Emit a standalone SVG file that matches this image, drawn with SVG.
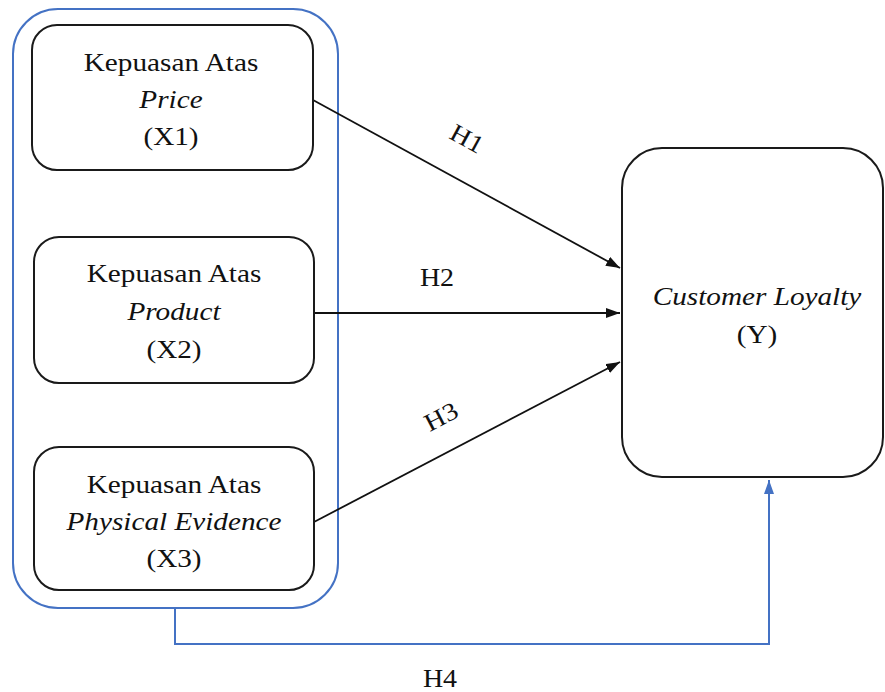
<svg xmlns="http://www.w3.org/2000/svg" width="885" height="692" viewBox="0 0 885 692">
<defs>
<style>
.box{fill:#fff;stroke:#1a1a1a;stroke-width:2}
.grp{fill:none;stroke:#4472c4;stroke-width:2}
.t{font-family:"Liberation Serif","Times New Roman",serif;font-size:25px;fill:#111;text-anchor:middle}
.i{font-style:italic}
.c{stroke:#111;stroke-width:1.8;fill:none}
.cb{stroke:#4472c4;stroke-width:2;fill:none}
</style>
<marker id="ah" viewBox="0 0 14 10" refX="14" refY="5" markerWidth="14" markerHeight="10" markerUnits="userSpaceOnUse" orient="auto">
<path d="M0,0 L14,5 L0,10 Z" fill="#111"/>
</marker>
<marker id="ahb" viewBox="0 0 14 10" refX="14" refY="5" markerWidth="14" markerHeight="10" markerUnits="userSpaceOnUse" orient="auto">
<path d="M0,0 L14,5 L0,10 Z" fill="#4472c4"/>
</marker>
</defs>
<rect width="885" height="692" fill="#fff"/>
<g id="group-x">
<rect class="grp" x="13" y="9" width="325" height="599" rx="45" ry="45"/>
</g>
<g id="connectors">
<line class="c" x1="313" y1="100" x2="620" y2="268" marker-end="url(#ah)"/>
<line class="c" x1="314" y1="313" x2="620" y2="313" marker-end="url(#ah)"/>
<line class="c" x1="314" y1="522" x2="620" y2="362" marker-end="url(#ah)"/>
<polyline class="cb" points="175,609 175,644 769,644 769,480" marker-end="url(#ahb)"/>
<text class="t" transform="translate(463,146) rotate(28.6) scale(1.12 1)">H1</text>
<text class="t" transform="translate(437,286) scale(1.12 1)">H2</text>
<text class="t" transform="translate(445,424) rotate(-27.5) scale(1.12 1)">H3</text>
<text class="t" transform="translate(440,687) scale(1.12 1)">H4</text>
</g>
<g id="x1">
<rect class="box" x="32" y="25" width="281" height="145" rx="25" ry="25"/>
<text class="t" transform="translate(171,71) scale(1.17 1)">Kepuasan Atas</text>
<text class="t i" transform="translate(171,108) scale(1.17 1)">Price</text>
<text class="t" transform="translate(171,145) scale(1.17 1)">(X1)</text>
</g>
<g id="x2">
<rect class="box" x="34" y="237" width="280" height="146" rx="25" ry="25"/>
<text class="t" transform="translate(174,282) scale(1.17 1)">Kepuasan Atas</text>
<text class="t i" transform="translate(174,320) scale(1.17 1)">Product</text>
<text class="t" transform="translate(174,358) scale(1.17 1)">(X2)</text>
</g>
<g id="x3">
<rect class="box" x="34" y="447" width="280" height="143" rx="25" ry="25"/>
<text class="t" transform="translate(174,493) scale(1.17 1)">Kepuasan Atas</text>
<text class="t i" transform="translate(174,530) scale(1.17 1)">Physical Evidence</text>
<text class="t" transform="translate(174,567) scale(1.17 1)">(X3)</text>
</g>
<g id="y">
<rect class="box" x="622" y="148" width="261" height="329" rx="40" ry="40"/>
<text class="t i" transform="translate(757,305) scale(1.17 1)">Customer Loyalty</text>
<text class="t" transform="translate(757,343) scale(1.17 1)">(Y)</text>
</g>
</svg>
